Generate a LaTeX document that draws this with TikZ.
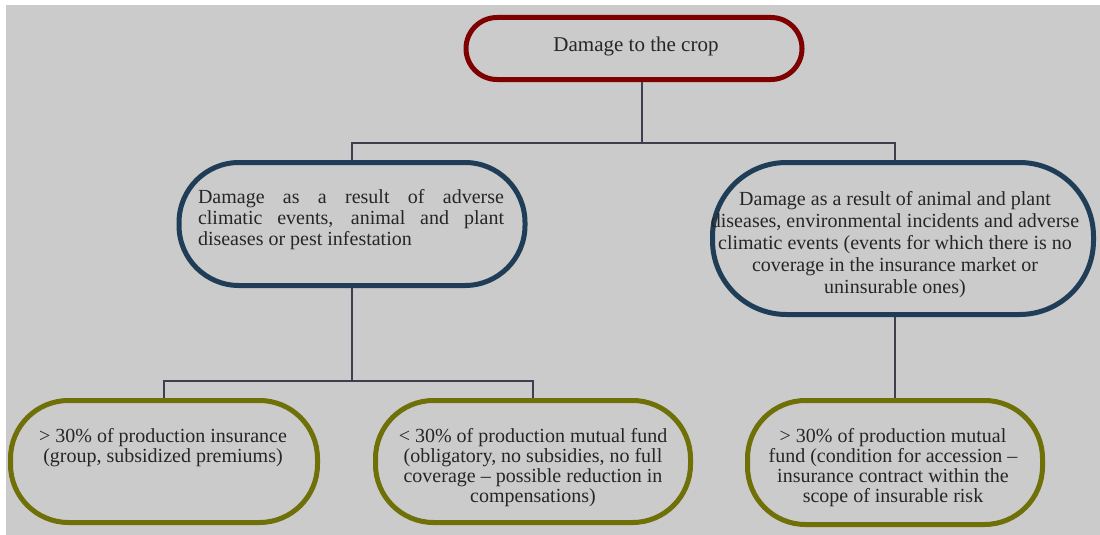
\documentclass[tikz,border=0pt]{standalone}
\usepackage{fontspec}
\setmainfont{Liberation Serif}
\definecolor{bggray}{HTML}{CBCBCB}
\definecolor{cropred}{HTML}{7E0000}
\definecolor{deepblue}{HTML}{1F3D56}
\definecolor{olivegreen}{HTML}{707008}
\definecolor{connline}{HTML}{3E3E4E}
\begin{document}
\begin{tikzpicture}[x=1pt,y=-1pt,
  box/.style={draw=#1, line width=5pt, inner sep=0pt},
  txt/.style={inner sep=0pt, font=\fontsize{20}{21}\selectfont, text=black!85},
  conn/.style={draw=connline, line width=1.2pt}]
\useasboundingbox (0,0) rectangle (1100,535);
\fill[white] (0,0) rectangle (1100,535);
\fill[bggray] (6,5) rectangle (1100,535);

% boxes
\node[box=cropred, rounded corners=31pt, minimum width=336pt, minimum height=62pt] (top) at (634,48.5) {};
\node[box=deepblue, rounded corners=60pt, minimum width=346pt, minimum height=123pt] (ml) at (352,224) {};
\node[box=deepblue, rounded corners=74pt, minimum width=381pt, minimum height=152pt] (mr) at (903,238.5) {};
\node[box=olivegreen, rounded corners=58pt, minimum width=307pt, minimum height=122pt] (bl) at (164,461.5) {};
\node[box=olivegreen, rounded corners=58pt, minimum width=315pt, minimum height=122pt] (bm) at (533,461.5) {};
\node[box=olivegreen, rounded corners=58pt, minimum width=295pt, minimum height=124pt] (br) at (895,462.5) {};

% texts
\node[txt, font=\fontsize{21}{22}\selectfont] (toptxt) at (636,46) {Damage to the crop};
\node[txt, anchor=north, text width=306pt, align=justify] (mltxt) at (351,189)
  {Damage as a result of adverse\linebreak climatic events, animal and plant\linebreak diseases or pest infestation};
\node[txt, anchor=north, align=center, font=\fontsize{20}{22}\selectfont] (mrtxt) at (895,191)
  {Damage as a result of animal and plant\\diseases, environmental incidents and adverse\\climatic events (events for which there is no\\coverage in the insurance market or\\uninsurable ones)};
\node[txt, anchor=north, align=center, font=\fontsize{20}{20}\selectfont] (bltxt) at (163,428)
  {> 30\% of production insurance\\(group, subsidized premiums)};
\node[txt, anchor=north, align=center, font=\fontsize{20}{20}\selectfont] (bmtxt) at (533,428)
  {< 30\% of production mutual fund\\(obligatory, no subsidies, no full\\coverage -- possible reduction in\\compensations)};
\node[txt, anchor=north, align=center, font=\fontsize{20}{20}\selectfont] (brtxt) at (893,428)
  {> 30\% of production mutual\\fund (condition for accession --\\insurance contract within the\\scope of insurable risk};

% connectors
\coordinate (j1) at (642,143);
\coordinate (j2) at (351,381);
\draw[conn] (top.south -| j1) -- (j1);
\draw[conn] (ml.north) -- (ml.north |- j1) -- (br.north |- j1) -- (br.north |- mr.north);
\draw[conn] (ml.south) -- (ml.south |- j2);
\draw[conn] (bl.north) -- (bl.north |- j2) -- (bm.north |- j2) -- (bm.north);
\draw[conn] (mr.south -| br.north) -- (br.north);
\end{tikzpicture}
\end{document}
